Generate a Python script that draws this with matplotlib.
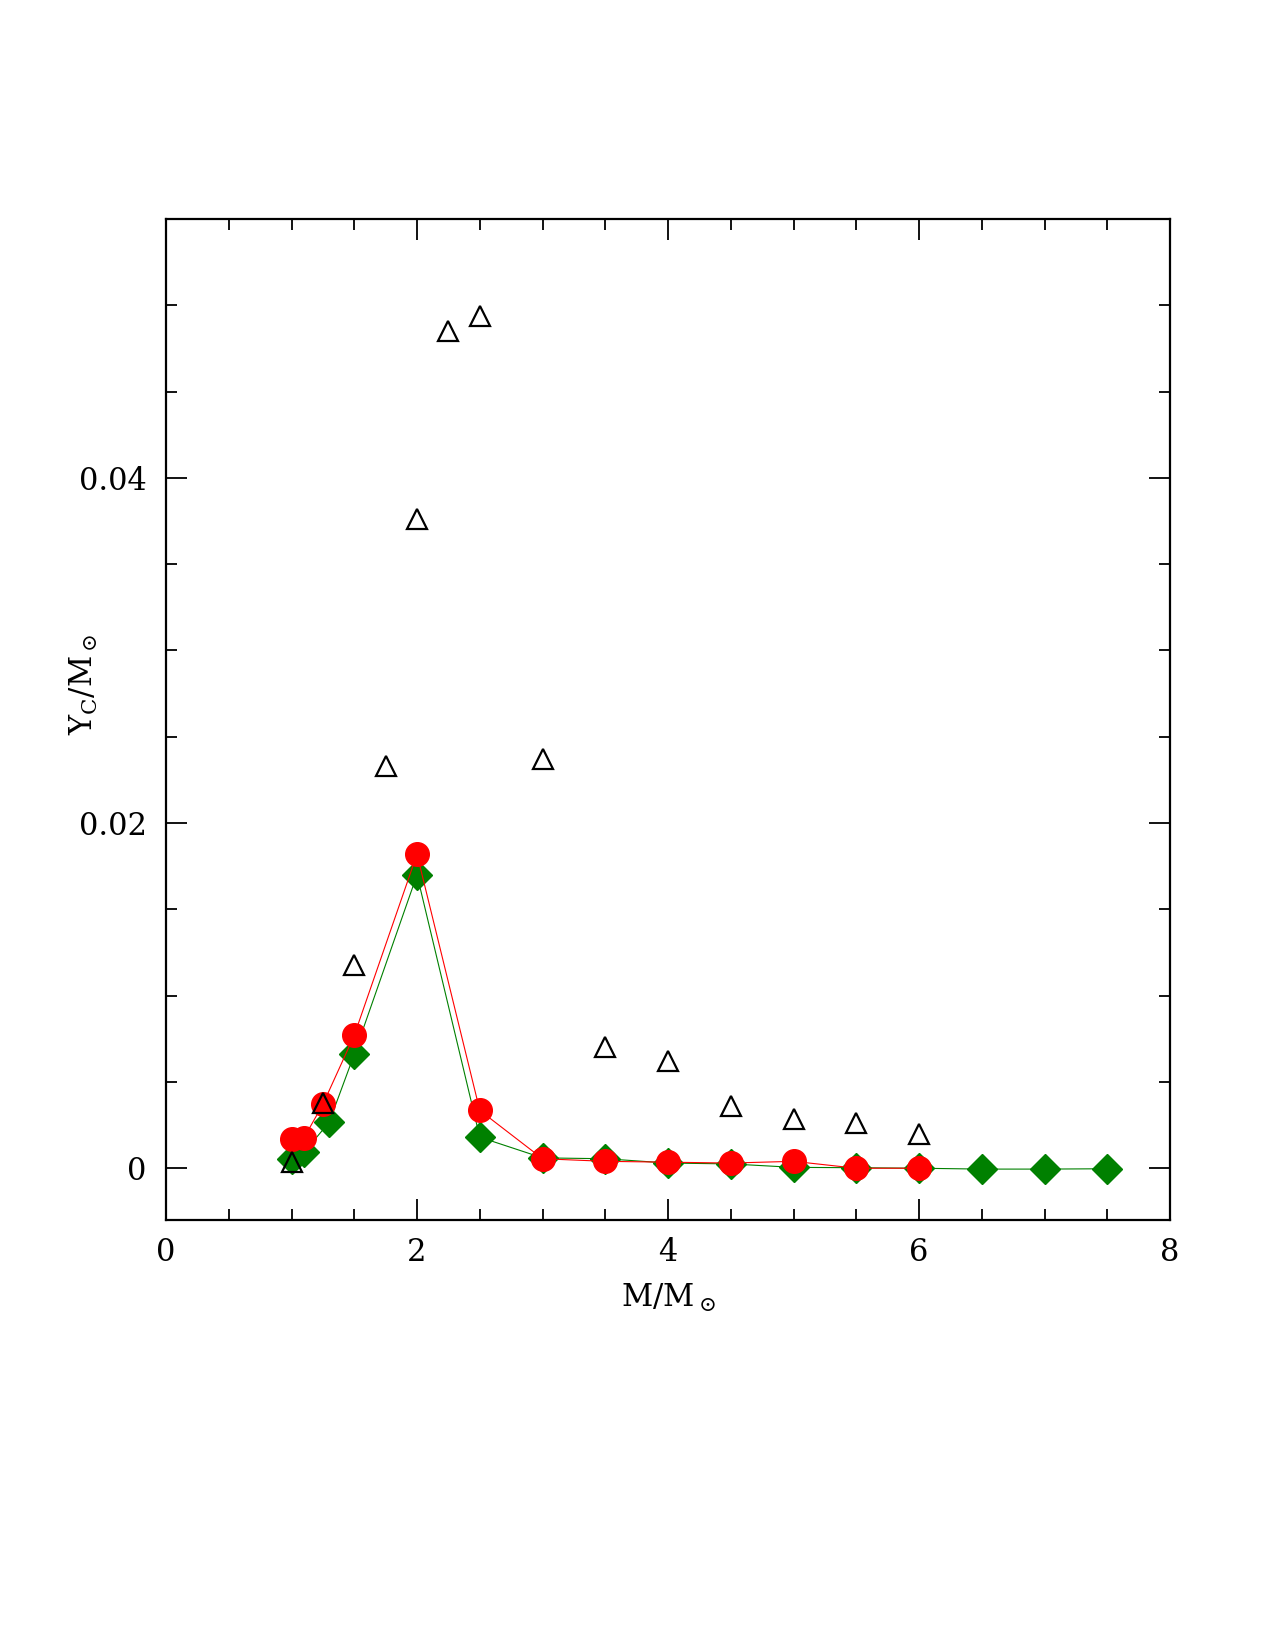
import numpy as np
import matplotlib
matplotlib.use("Agg")
import matplotlib.pyplot as plt
from matplotlib.ticker import MultipleLocator, FixedLocator, FixedFormatter

# open triangles
tri_mass = [1.0, 1.25, 1.5, 1.75, 2.0, 2.25, 2.5, 3.0, 3.5, 4.0, 4.5, 5.0, 5.5, 6.0]
tri_yc = [0.00035, 0.0038, 0.01175, 0.0233, 0.0376, 0.0485, 0.0494, 0.0237,
          0.0070, 0.0062, 0.0036, 0.00286, 0.0026, 0.0020]

# red circles
red_mass = [1.0, 1.1, 1.25, 1.5, 2.0, 2.5, 3.0, 3.5, 4.0, 4.5, 5.0, 5.5, 6.0]
red_yc = [0.0017, 0.00177, 0.0037, 0.0077, 0.0182, 0.00335, 0.00055, 0.0004,
          0.00035, 0.0003, 0.0004, 0.0, 0.0]

# green diamonds
grn_mass = [1.0, 1.1, 1.3, 1.5, 2.0, 2.5, 3.0, 3.5, 4.0, 4.5, 5.0, 5.5, 6.0, 6.5, 7.0, 7.5]
grn_yc = [0.00052, 0.00093, 0.00266, 0.0066, 0.0170, 0.0018, 0.0006, 0.00055,
          0.0003, 0.00025, 0.00005, 0.00003, 0.0, -0.00005, -0.00005, -0.00003]

plt.rcParams['font.family'] = 'DejaVu Serif'
plt.rcParams['mathtext.fontset'] = 'dejavuserif'

fig = plt.figure(figsize=(12.75, 16.5), dpi=100)
ax = fig.add_axes([0.1302, 0.2606, 0.7875, 0.6067])

ax.plot(grn_mass, grn_yc, color='green', lw=0.8, marker='D', ms=15,
        mfc='green', mec='green', zorder=3)
ax.plot(red_mass, red_yc, color='red', lw=0.8, marker='o', ms=17,
        mfc='red', mec='red', zorder=4)
ax.plot(tri_mass, tri_yc, ls='none', marker='^', ms=15, mfc='none',
        mec='black', mew=1.6, zorder=5)

ax.set_xlim(0, 8)
ax.set_ylim(-0.003, 0.055)

ax.xaxis.set_major_locator(MultipleLocator(2))
ax.xaxis.set_minor_locator(MultipleLocator(0.5))
ax.yaxis.set_major_locator(FixedLocator([0, 0.02, 0.04]))
ax.yaxis.set_major_formatter(FixedFormatter(['0', '0.02', '0.04']))
ax.yaxis.set_minor_locator(MultipleLocator(0.005))

ax.tick_params(which='both', direction='in', top=True, right=True, width=1.3)
ax.tick_params(which='major', length=15, labelsize=22)
ax.tick_params(axis='x', which='major', pad=12)
ax.tick_params(axis='y', which='major', pad=14)
ax.tick_params(which='minor', length=8)
for s in ax.spines.values():
    s.set_linewidth(1.6)

ax.set_xlabel(r'$\mathrm{M/M_\odot}$', fontsize=22, labelpad=10)
ax.set_ylabel(r'$\mathrm{Y_C/M_\odot}$', fontsize=22)
ax.yaxis.set_label_coords(-0.066, 0.535)

fig.savefig('out.png', dpi=100)
